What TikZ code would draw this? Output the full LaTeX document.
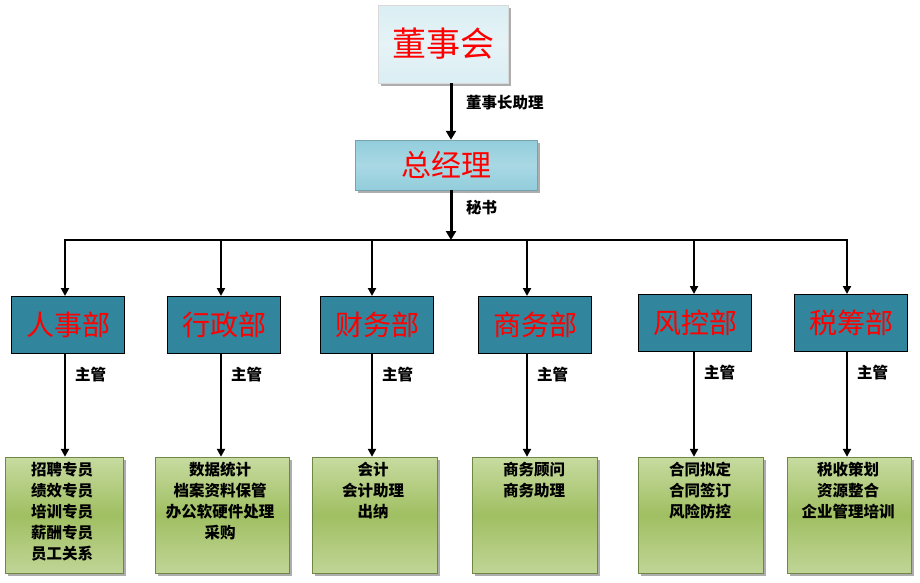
\documentclass[tikz,border=0pt]{standalone}
\usepackage{fontspec}
\setmainfont{Noto Sans CJK SC}
\usetikzlibrary{shadows,arrows.meta}
\definecolor{boardfill}{HTML}{DAEEF3}
\definecolor{boardmid}{HTML}{E6F3F7}
\definecolor{gmfill}{HTML}{92CDDC}
\definecolor{gmmid}{HTML}{A9D8E4}
\definecolor{deptfill}{HTML}{31859C}
\definecolor{subtop}{HTML}{C7DBA0}
\definecolor{submid}{HTML}{A0BF62}
\definecolor{subbot}{HTML}{C0D596}
\definecolor{redtxt}{HTML}{FF0000}
\tikzset{
  shad/.style={drop shadow={shadow xshift=3pt,shadow yshift=-3pt,fill=black!40,opacity=0.8}},
  boardbox/.style={shad,draw=black!15,top color=boardfill,bottom color=boardfill,middle color=boardmid,minimum width=130pt,minimum height=78pt,inner sep=0pt,text=redtxt,font=\fontsize{34}{38}\selectfont},
  gmbox/.style={shad,draw=gmfill!80!black,top color=gmfill,bottom color=gmfill,middle color=gmmid,minimum width=182pt,minimum height=50pt,inner sep=0pt,text=redtxt,font=\fontsize{30}{33}\selectfont},
  deptbox/.style={draw=black,line width=1pt,fill=deptfill,minimum width=113pt,minimum height=57pt,inner sep=0pt,text=redtxt,font=\fontsize{28}{31}\selectfont},
  subbox/.style={shad,draw=submid!70!black,top color=subtop,bottom color=subbot,middle color=submid,minimum height=116pt,inner sep=0pt},
  subtxt/.style={anchor=north,align=center,inner sep=0pt,font=\bfseries\fontsize{15.5}{21}\selectfont},
  lbl/.style={anchor=west,inner sep=0pt,font=\bfseries\fontsize{15.5}{18}\selectfont},
  bigarrow/.style={line width=3pt,-{Triangle[length=9pt,width=10pt]}},
  arr/.style={line width=2pt,-{Triangle[length=8pt,width=8pt]}},
  bus/.style={line width=2.5pt},
}
\begin{document}
\begin{tikzpicture}[x=1pt,y=-1pt]
\useasboundingbox (0,0) rectangle (920,582);
% top
\node[boardbox] (board) at (443,44) {董事会};
\node[gmbox] (gm) at (446,165) {总经理};
\draw[bigarrow] (board.south -| 451,0) -- (gm.north -| 451,0);
\node[lbl] (l0) at (466,103) {董事长助理};
% bus
\coordinate (b0) at (451,240);
\coordinate (j1) at (65,240);
\coordinate (j2) at (221,240);
\coordinate (j3) at (372,240);
\coordinate (j4) at (527,240);
\coordinate (j5) at (694,240);
\coordinate (j6) at (847,240);
\draw[bigarrow] (gm.south -| b0) -- (b0);
\node[lbl] (l1) at (466,208) {秘书};
\draw[bus] ([xshift=-1.25pt]j1) -- ([xshift=1.25pt]j6);
% departments
\node[deptbox] (d1) at (68,325) {人事部};
\node[deptbox] (d2) at (224,325) {行政部};
\node[deptbox] (d3) at (377,325) {财务部};
\node[deptbox] (d4) at (535,325) {商务部};
\node[deptbox] (d5) at (695,323) {风控部};
\node[deptbox] (d6) at (851,323) {税筹部};
\foreach \i in {1,...,6}{
  \draw[arr] (j\i) -- (j\i |- d\i.north);
}
% sub boxes
\node[subbox,minimum width=118pt] (s1) at (64,515) {};
\node[subbox,minimum width=134pt] (s2) at (222,515) {};
\node[subbox,minimum width=125pt] (s3) at (374.5,515) {};
\node[subbox,minimum width=125pt] (s4) at (534.5,515) {};
\node[subbox,minimum width=125pt] (s5) at (700.5,515) {};
\node[subbox,minimum width=124pt] (s6) at (849,515) {};
\foreach \i in {1,...,6}{
  \draw[arr] (j\i |- d\i.south) -- (j\i |- s\i.north);
  \node[lbl] (m\i) at ([xshift=10pt,yshift=-21pt]j\i |- d\i.south) {主管};
}
\node[subtxt] (t1) at (62,462) {招聘专员\\绩效专员\\培训专员\\薪酬专员\\员工关系};
\node[subtxt] (t2) at (220,462) {数据统计\\档案资料保管\\办公软硬件处理\\采购};
\node[subtxt] (t3) at (373,462) {会计\\会计助理\\出纳};
\node[subtxt] (t4) at (534,462) {商务顾问\\商务助理};
\node[subtxt] (t5) at (700,462) {合同拟定\\合同签订\\风险防控};
\node[subtxt] (t6) at (848,462) {税收策划\\资源整合\\企业管理培训};
\end{tikzpicture}
\end{document}
